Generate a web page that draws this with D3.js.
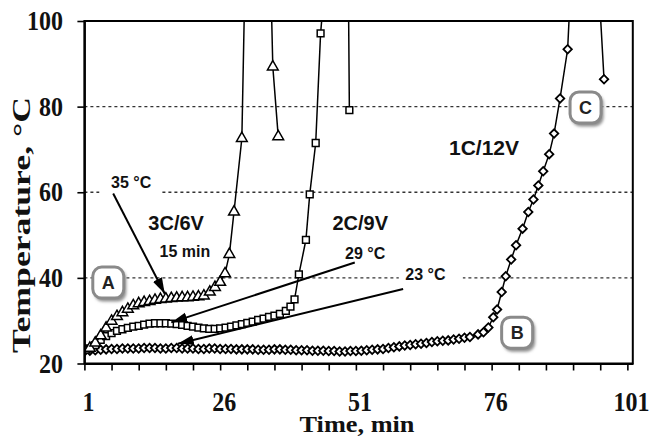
<!DOCTYPE html>
<html><head><meta charset="utf-8">
<script src="https://cdn.jsdelivr.net/npm/d3@7"></script>
<style>body{margin:0;background:#fff}</style>
</head><body><svg id="c" width="649" height="438"></svg>
<script>
// ---- data ----
const xTickLabels = [1, 26, 51, 76, 101];
const yTickLabels = [20, 40, 60, 80, 100];
const gridValues = [40, 60, 80];

// 3C/6V (triangles)
const triTime = [1,2,3,4,5,6,7,8,9,10,11,12,13,14,15,16,17,18,19,20,21,22,23,
  24.1,25.05,26,26.9,27.7,28.55,30, 31,32,33,34,35,35.7,36.7];
const triTemp = [23.2,23.6,24.8,26.5,28.3,29.9,31.0,31.9,32.7,33.5,34.0,34.3,34.5,34.8,35.0,35.1,35.2,35.3,35.4,35.4,35.5,35.6,35.8,
  36.7,37.8,39.0,41.0,45.5,55.4,72.6, 138,170,180,160,127,89.3,73];

// 2C/9V (squares)
const sqTime = [1,2,3,4,5,6,7,8,9,10,11,12,13,14,15,16,17,18,19,20,21,22,23,24,25,26,27,28,29,30,31,32,33,34,35,36,37,
  38.1,38.95,39.7,40.5,41.8,42.5,43.6,44.5,45.5,46.5,47.5,48.8,49.8];
const sqTemp = [23.2,23.5,24.3,25.5,26.4,27.1,27.6,28.0,28.3,28.6,28.8,29.1,29.3,29.4,29.4,29.4,29.3,29.2,29.0,28.8,
  28.6,28.4,28.2,28.1,28.1,28.2,28.4,28.6,28.9,29.2,29.5,29.8,30.2,30.5,30.9,31.2,31.6,
  32.3,33.3,35.0,40.8,48.9,59.5,71.5,97.1,112,200,230,239,79.2];

// 1C/12V (diamonds)
const diaTime = [1,2,3,4,5,6,7,8,9,10,11,12,13,14,15,16,17,18,19,20,21,22,23,24,25,26,27,28,29,30,
  31,32,33,34,35,36,37,38,39,40,41,42,43,44,45,46,47,48,49,50,51,52,53,54,55,56,57,58,59,60,
  61,62,63,64,65,66,67,68,69,70,71,72,
  73.5,74.5,75.4,76.3,77.0,77.85,78.6,79.6,80.5,81.7,82.75,83.7,84.6,85.5,86.6,87.5,88.6,90.0,91,92,93,94,95.7,96.7];
const diaTemp = [22.8,23.0,23.1,23.2,23.3,23.4,23.4,23.5,23.5,23.5,
  23.5,23.6,23.6,23.6,23.5,23.5,23.6,23.6,23.5,23.5,
  23.5,23.4,23.4,23.5,23.5,23.4,23.4,23.4,23.3,23.3,
  23.3,23.3,23.2,23.2,23.2,23.3,23.3,23.2,23.2,23.1,
  23.1,23.1,23.0,23.0,23.0,22.9,22.9,22.8,22.8,22.9,
  22.9,23.0,23.1,23.2,23.3,23.4,23.6,23.8,24.0,24.2,
  24.3,24.5,24.6,24.8,25.0,25.2,25.3,25.4,25.6,25.8,26.0,26.2,
  26.8,27.3,28.4,30.8,32.6,36.7,40.4,44.3,47.6,51.5,55.4,58.3,61.6,64.9,68.9,73.7,81.9,93.4,120,150,170,160,109,86.4];

// ---- layout ----
const svg = d3.select("#c");
const L = 84.4, R = 632.8, T = 21, B = 363.5;
const x = d3.scaleLinear().domain([1, 102]).range([L, R]);
const y = d3.scaleLinear().domain([20, 100]).range([B, T]);

svg.append("rect").attr("width",649).attr("height",438).attr("fill","#fff");

const defs = svg.append("defs");
defs.append("clipPath").attr("id","plot").append("rect")
  .attr("x",L).attr("y",T).attr("width",R-L).attr("height",B-T);
defs.append("marker").attr("id","arr").attr("markerUnits","userSpaceOnUse")
  .attr("markerWidth",17).attr("markerHeight",11).attr("refX",16).attr("refY",5)
  .attr("orient","auto").append("path").attr("d","M0,0 L16,5 L0,10 Z").attr("fill","#000");
const f = defs.append("filter").attr("id","sh").attr("x","-30%").attr("y","-30%").attr("width","160%").attr("height","160%");
f.append("feGaussianBlur").attr("stdDeviation",1.6);

// gridlines
svg.append("g").selectAll("line").data(gridValues).join("line")
  .attr("x1",L).attr("x2",R).attr("y1",d=>y(d)).attr("y2",d=>y(d))
  .attr("stroke","#333").attr("stroke-width",1.3).attr("stroke-dasharray","3,3");

// white label boxes over gridlines
svg.append("rect").attr("x",x(3.8)).attr("y",y(65.2)).attr("width",62).attr("height",26).attr("fill","#fff");
svg.append("rect").attr("x",x(58.9)).attr("y",y(43.7)).attr("width",64).attr("height",22).attr("fill","#fff");

// series
const plot = svg.append("g").attr("clip-path","url(#plot)");
function series(times, temps, sym, size, rot, sw){
  const pts = times.map((t,i)=>[t,temps[i]]);
  plot.append("path").datum(pts)
    .attr("d", d3.line().x(d=>x(d[0])).y(d=>y(d[1])))
    .attr("fill","none").attr("stroke","#000").attr("stroke-width",1.5);
  plot.append("g").selectAll("path").data(pts).join("path")
    .attr("d", d3.symbol().type(sym).size(size))
    .attr("transform", d=>`translate(${x(d[0])},${y(d[1])}) rotate(${rot})`)
    .attr("fill","#fff").attr("stroke","#000").attr("stroke-width",sw);
}
series(diaTime, diaTemp, d3.symbolSquare, 36, 45, 1.8);
series(sqTime, sqTemp, d3.symbolSquare, 46, 0, 1.5);
series(triTime, triTemp, d3.symbolTriangle, 50, 0, 1.5);

// arrows
const arrows = [
  {from:[6.3,59.7], to:[15.8,36.3]},
  {from:[50.8,43.6], to:[17.0,29.6]},
  {from:[59.7,37.4], to:[18.2,24.6]}
];
svg.append("g").selectAll("line").data(arrows).join("line")
  .attr("x1",d=>x(d.from[0])).attr("y1",d=>y(d.from[1]))
  .attr("x2",d=>x(d.to[0])).attr("y2",d=>y(d.to[1]))
  .attr("stroke","#000").attr("stroke-width",2).attr("marker-end","url(#arr)");

// annotation texts (position = baseline)
const notes = [
  {t:"35 °C", at:[9.6,60.9], s:16},
  {t:"3C/6V", at:[17.9,51.1], s:20},
  {t:"15 min", at:[19.5,44.9], s:16},
  {t:"2C/9V", at:[51.8,51.1], s:20},
  {t:"29 °C", at:[52.7,44.4], s:16},
  {t:"23 °C", at:[63.8,39.5], s:16},
  {t:"1C/12V", at:[74.6,68.7], s:21}
];
svg.append("g").selectAll("text").data(notes).join("text")
  .attr("x",d=>x(d.at[0])).attr("y",d=>y(d.at[1]))
  .attr("text-anchor","middle").attr("font-family","'Liberation Sans',Arial,sans-serif")
  .attr("font-weight","bold").attr("font-size",d=>d.s).attr("fill","#111").text(d=>d.t);

// A B C boxes
const tags = [{t:"A", at:[5.4,38.9]},{t:"B", at:[80.7,27.2]},{t:"C", at:[93.3,79.8]}];
const tg = svg.append("g").selectAll("g").data(tags).join("g")
  .attr("transform",d=>`translate(${x(d.at[0])},${y(d.at[1])})`);
tg.append("rect").attr("x",-14).attr("y",-13).attr("width",32).attr("height",32).attr("rx",9)
  .attr("fill","#8e8e8e").attr("filter","url(#sh)");
tg.append("rect").attr("x",-15.5).attr("y",-15.5).attr("width",31).attr("height",31).attr("rx",9)
  .attr("fill","#fff").attr("stroke","#8a8a8a").attr("stroke-width",3);
tg.append("text").attr("y",6.5).attr("text-anchor","middle")
  .attr("font-family","'Liberation Sans',Arial,sans-serif").attr("font-weight","bold")
  .attr("font-size",18).attr("fill","#222").text(d=>d.t);

// frame
svg.append("rect").attr("x",L).attr("y",T).attr("width",R-L).attr("height",B-T)
  .attr("fill","none").attr("stroke","#000").attr("stroke-width",2);

// axes
const xa = svg.append("g").attr("transform",`translate(0,${B})`)
  .call(d3.axisBottom(x).tickValues(d3.range(1,102,5)).tickFormat("").tickSize(7).tickSizeOuter(0));
xa.select(".domain").attr("stroke","#000").attr("stroke-width",2);
xa.selectAll(".tick line").attr("stroke","#000").attr("stroke-width",1.6);
const ya = svg.append("g").attr("transform",`translate(${L},0)`)
  .call(d3.axisLeft(y).tickValues(yTickLabels).tickFormat("").tickSize(7).tickSizeOuter(0));
ya.select(".domain").attr("stroke","#000").attr("stroke-width",2);
ya.selectAll(".tick line").attr("stroke","#000").attr("stroke-width",1.6);

const serif = "'Liberation Serif','Times New Roman',serif";
svg.append("g").selectAll("text").data(xTickLabels).join("text")
  .attr("transform",d=>`translate(${x(d)+4},411) scale(1,1.1)`)
  .attr("text-anchor","middle").attr("font-family",serif).attr("font-weight","bold")
  .attr("font-size",24).attr("fill","#111").text(d=>d);
svg.append("g").selectAll("text").data(yTickLabels).join("text")
  .attr("transform",d=>`translate(63,${y(d)+9.2}) scale(1,1.12)`)
  .attr("text-anchor","end").attr("font-family",serif).attr("font-weight","bold")
  .attr("font-size",24).attr("fill","#111").text(d=>d);

svg.append("text").attr("transform","translate(357,432)")
  .attr("text-anchor","middle").attr("font-family",serif).attr("font-weight","bold")
  .attr("font-size",23).attr("fill","#111").attr("textLength",115).attr("lengthAdjust","spacingAndGlyphs")
  .text("Time, min");
svg.append("text").attr("transform","translate(30,225) rotate(-90)")
  .attr("text-anchor","middle").attr("font-family",serif).attr("font-weight","bold")
  .attr("font-size",26).attr("fill","#111").attr("textLength",256).attr("lengthAdjust","spacingAndGlyphs")
  .text("Temperature, °C");
</script></body></html>
